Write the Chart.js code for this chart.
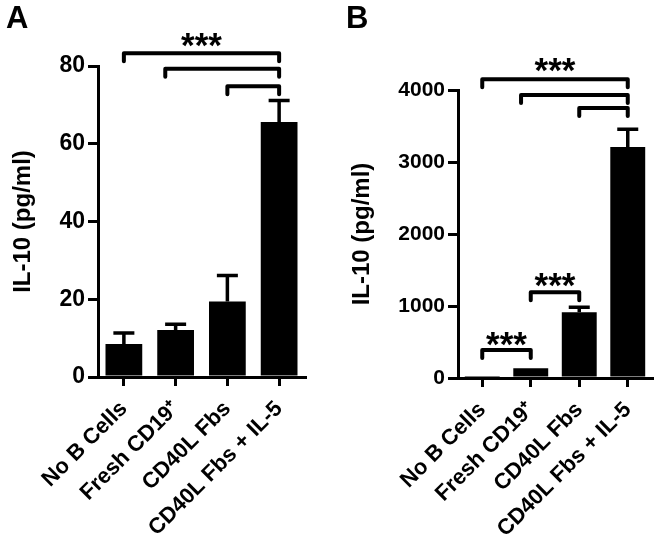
<!DOCTYPE html>
<html>
<head>
<meta charset="UTF-8">
<title>IL-10</title>
<script src="https://cdn.jsdelivr.net/npm/chart.js"></script>
<style>
  body { margin: 0; background: #fff; }
  .wrap { position: relative; width: 658px; height: 537px; }
  canvas { position: absolute; top: 0; }
  .panel { position: absolute; top: 0; font: bold 31px "Liberation Sans", Arial, sans-serif; color: #000; }
</style>
</head>
<body>
<div class="wrap">
  <canvas id="chartA" width="330" height="537" style="left:0"></canvas>
  <canvas id="chartB" width="328" height="537" style="left:330px"></canvas>
  <div class="panel" style="left:6px">A</div>
  <div class="panel" style="left:346px">B</div>
</div>
<script>
// categories and values
const categories = ['No B Cells', 'Fresh CD19\u207A', 'CD40L Fbs', 'CD40L Fbs + IL-5'];

const meanA = [8.5, 12.1, 19.4, 65.6];
const semA = [2.8, 1.5, 6.7, 5.5];
const ticksA = [0, 20, 40, 60, 80];
// [from, to, level]
const bracketsA = [[0, 3, 83.3], [0.8, 3, 79.3], [2, 3, 74.8]];
// [x position, level]
const starsA = [[1.5, 86.4]];

const meanB = [15, 135, 912, 3210];
const semB = [5, 12, 70, 245];
const ticksB = [0, 1000, 2000, 3000, 4000];
const bracketsB = [[0, 3, 4150], [0.8, 3, 3930], [2, 3, 3750], [1, 2, 1190], [0, 1, 388]];
const starsB = [[1.5, 4330], [1.5, 1350], [0.5, 525]];

const FONT = '"Liberation Sans", Arial, sans-serif';

// error bars, brackets and stars
const annotations = {
    id: 'annotations',
    afterDatasetsDraw(chart, args, opts) {
        const ctx = chart.ctx;
        const xs = chart.scales.x, ys = chart.scales.y;
        ctx.save();
        ctx.strokeStyle = '#000';
        ctx.fillStyle = '#000';

        // error bars (upper only)
        ctx.lineWidth = 3.5;
        opts.means.forEach((m, i) => {
            const x = xs.getPixelForValue(i);
            const yb = ys.getPixelForValue(m);
            const yt = ys.getPixelForValue(m + opts.sems[i]);
            if (yb - yt < 2) return;
            ctx.beginPath();
            ctx.moveTo(x, yb);
            ctx.lineTo(x, yt);
            ctx.moveTo(x - 10.5, yt);
            ctx.lineTo(x + 10.5, yt);
            ctx.stroke();
        });

        // significance brackets
        ctx.lineWidth = 4;
        ctx.lineJoin = 'round';
        ctx.lineCap = 'round';
        opts.brackets.forEach(([a, b, lvl]) => {
            const x1 = xs.getPixelForValue(a);
            const x2 = xs.getPixelForValue(b);
            const y = ys.getPixelForValue(lvl);
            ctx.beginPath();
            ctx.moveTo(x1, y + 8);
            ctx.lineTo(x1, y);
            ctx.lineTo(x2, y);
            ctx.lineTo(x2, y + 8);
            ctx.stroke();
        });

        ctx.font = 'bold 35px ' + FONT;
        ctx.textAlign = 'center';
        ctx.textBaseline = 'alphabetic';
        opts.stars.forEach(([p, lvl]) => {
            ctx.fillText('***', xs.getPixelForValue(p), ys.getPixelForValue(lvl) + 16);
        });
        ctx.restore();
    }
};

function makeChart(id, means, sems, yTicks, brackets, stars, box) {
    new Chart(document.getElementById(id), {
        type: 'bar',
        data: {
            labels: categories,
            datasets: [{
                data: means,
                backgroundColor: '#000',
                borderWidth: 0,
                barPercentage: box.barPct,
                categoryPercentage: 1
            }]
        },
        options: {
            responsive: false,
            animation: false,
            layout: { padding: { top: box.top, right: box.right, left: 0, bottom: 0 } },
            plugins: {
                legend: { display: false },
                tooltip: { enabled: false },
                annotations: { means, sems, brackets, stars }
            },
            scales: {
                x: {
                    grid: { offset: false, drawOnChartArea: false, color: '#000', lineWidth: 3, tickLength: 9 },
                    border: { display: true, color: '#000', width: 3 },
                    ticks: {
                        color: '#000',
                        minRotation: 45, maxRotation: 45,
                        padding: 10,
                        font: { family: FONT, size: 22, weight: 'bold' }
                    },
                    afterFit: s => { s.height = box.xHeight; }
                },
                y: {
                    min: yTicks[0],
                    max: yTicks[yTicks.length - 1],
                    afterBuildTicks: s => { s.ticks = yTicks.map(v => ({ value: v })); },
                    grid: { drawOnChartArea: false, color: '#000', lineWidth: 3, tickLength: box.tick },
                    border: { display: true, color: '#000', width: 3 },
                    ticks: {
                        color: '#000',
                        padding: 3,
                        callback: v => String(v),
                        font: { family: FONT, size: box.tickFont, weight: 'bold' }
                    },
                    title: {
                        display: true,
                        text: 'IL-10 (pg/ml)',
                        color: '#000',
                        padding: { top: box.titlePad, bottom: 0 },
                        font: { family: FONT, size: 24, weight: 'bold' }
                    },
                    afterFit: s => { s.width = box.yWidth; }
                }
            }
        },
        plugins: [annotations]
    });
}

makeChart('chartA', meanA, semA, ticksA, bracketsA, starsA,
    { top: 66, right: 25, xHeight: 160, yWidth: 98, tick: 10, tickFont: 23, titlePad: 9, barPct: 0.71 });
makeChart('chartB', meanB, semB, ticksB, bracketsB, starsB,
    { top: 90, right: 6, xHeight: 159, yWidth: 128, tick: 10, tickFont: 21, titlePad: 18, barPct: 0.72 });
</script>
</body>
</html>
